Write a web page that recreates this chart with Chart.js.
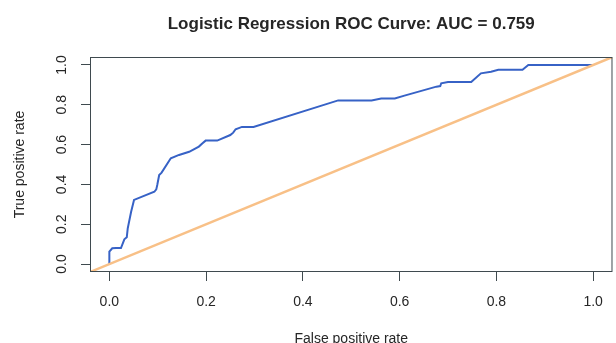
<!DOCTYPE html>
<html>
<head>
<meta charset="utf-8">
<script src="https://cdn.jsdelivr.net/npm/chart.js@4/dist/chart.umd.min.js"></script>
<style>
  body { margin: 0; background: #fff; }
</style>
</head>
<body>
<canvas id="rocChart" width="616" height="343"></canvas>
<script>
// ROC-kurva
const fpr = [0, 0, 0.006, 0.014, 0.024, 0.031, 0.036, 0.038, 0.045, 0.051, 0.093, 0.097, 0.099, 0.103, 0.108,
  0.127, 0.144, 0.165, 0.185, 0.192, 0.199, 0.223, 0.250, 0.256, 0.261, 0.274, 0.298, 0.473, 0.542, 0.562,
  0.590, 0.610, 0.676, 0.684, 0.686, 0.700, 0.748, 0.768, 0.789, 0.804, 0.854, 0.866, 1.0];
const tpr = [0, 0.062, 0.079, 0.080, 0.080, 0.124, 0.134, 0.179, 0.263, 0.322, 0.363, 0.375, 0.397, 0.447, 0.459,
  0.531, 0.548, 0.564, 0.590, 0.606, 0.620, 0.620, 0.648, 0.660, 0.677, 0.689, 0.689, 0.822, 0.822, 0.832,
  0.832, 0.846, 0.891, 0.894, 0.908, 0.914, 0.914, 0.958, 0.966, 0.976, 0.976, 1.0, 1.0];

const axisRange = [-0.04, 1.04];
const tickValues = [0, 0.2, 0.4, 0.6, 0.8, 1.0];

const titleText = "Logistic Regression ROC Curve: AUC = 0.759";
const xTitle = "False positive rate";
const yTitle = "True positive rate";

const frameColor = "#3f4a4f";
const textColor = "#262626";
const fontFamily = "'Liberation Sans', Arial, sans-serif";

// ram runt hela ritytan (som box() i R)
const boxPlugin = {
  id: "box",
  afterDraw(chart) {
    const { ctx, chartArea } = chart;
    ctx.save();
    ctx.strokeStyle = frameColor;
    ctx.lineWidth = 1;
    ctx.strokeRect(chartArea.left + 0.5, chartArea.top + 0.5,
      chartArea.right - chartArea.left - 1, chartArea.bottom - chartArea.top - 1);
    ctx.restore();
  },
};

const rocPoints = fpr.map((x, i) => ({ x, y: tpr[i] }));
const diagPoints = axisRange.map((v) => ({ x: v, y: v }));

new Chart(document.getElementById("rocChart"), {
  type: "scatter",
  data: {
    datasets: [
      {
        label: "diagonal",
        data: diagPoints,
        showLine: true,
        borderColor: "#f8c087",
        borderWidth: 2.5,
        pointRadius: 0,
      },
      {
        label: "ROC",
        data: rocPoints,
        showLine: true,
        borderColor: "#3762c6",
        borderWidth: 2,
        pointRadius: 0,
        tension: 0,
      },
    ],
  },
  options: {
    responsive: false,
    animation: false,
    layout: { padding: { left: 0, right: 2, top: 0, bottom: 0 } },
    plugins: {
      legend: { display: false },
      tooltip: { enabled: false },
      title: {
        display: true,
        text: titleText,
        fullSize: false,
        color: textColor,
        font: { family: fontFamily, size: 17, weight: "bold", lineHeight: 1.2 },
        padding: { top: 14, bottom: 22.6 },
      },
    },
    scales: {
      x: {
        type: "linear",
        min: axisRange[0],
        max: axisRange[1],
        afterBuildTicks: (axis) => { axis.ticks = tickValues.map((v) => ({ value: v })); },
        afterFit: (axis) => { axis.height = 71; },
        border: { display: false },
        grid: { drawOnChartArea: false, drawTicks: true, tickLength: 9, color: frameColor },
        ticks: {
          color: textColor,
          font: { family: fontFamily, size: 14 },
          padding: 13,
          maxRotation: 0,
          callback: (v) => v.toFixed(1),
        },
        title: {
          display: true,
          text: xTitle,
          color: textColor,
          font: { family: fontFamily, size: 14, lineHeight: 1 },
          padding: { top: 0, bottom: -3 },
        },
      },
      y: {
        type: "linear",
        min: axisRange[0],
        max: axisRange[1],
        afterBuildTicks: (axis) => { axis.ticks = tickValues.map((v) => ({ value: v })); },
        afterFit: (axis) => { axis.width = 90; },
        border: { display: false },
        grid: { drawOnChartArea: false, drawTicks: true, tickLength: 9, color: frameColor },
        ticks: {
          color: textColor,
          font: { family: fontFamily, size: 14 },
          padding: 9,
          minRotation: 90,
          maxRotation: 90,
          crossAlign: "center",
          callback: (v) => v.toFixed(1),
        },
        title: {
          display: true,
          text: yTitle,
          color: textColor,
          font: { family: fontFamily, size: 14, lineHeight: 1.2 },
          padding: { top: 12, bottom: 0 },
        },
      },
    },
  },
  plugins: [boxPlugin],
});
</script>
</body>
</html>
